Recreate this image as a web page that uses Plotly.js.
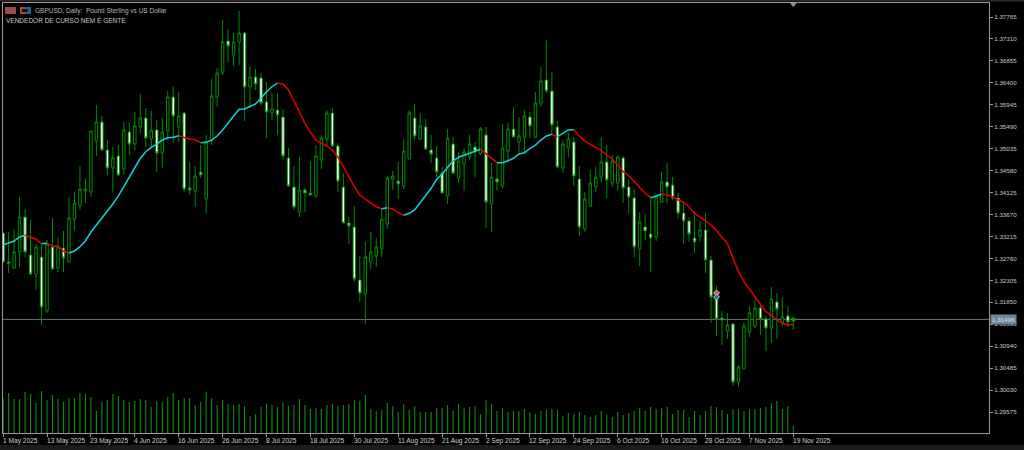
<!DOCTYPE html>
<html>
<head>
<meta charset="utf-8">
<script src="https://cdn.plot.ly/plotly-3.0.1.min.js"></script>
<style>html,body{margin:0;padding:0;background:#000;overflow:hidden}#chart{width:1024px;height:450px}</style>
</head>
<body>
<div id="chart"></div>
<script>
const openP = [
1.33287,1.32686,1.32561,1.32894,1.33619,1.32831,1.32437,1.32790,1.31670,1.32997,
1.32561,1.32976,1.32686,1.33577,1.33847,1.34158,1.34138,1.35194,1.35589,1.35008,
1.34635,1.34884,1.34614,1.35382,1.35132,1.35485,1.35671,1.35236,1.35423,1.34946,
1.35402,1.36107,1.35485,1.35775,1.34220,1.34158,1.34552,1.33992,1.35215,1.36107,
1.36605,1.37268,1.36977,1.37248,1.37434,1.36314,1.36522,1.36501,1.36004,1.35775,
1.35837,1.35692,1.34842,1.34241,1.33723,1.34179,1.34117,1.34055,1.34801,1.35236,
1.35775,1.35091,1.34241,1.33495,1.33412,1.32313,1.32022,1.32686,1.32811,1.32956,
1.33474,1.34406,1.34365,1.34262,1.34822,1.35671,1.35236,1.35485,1.35008,1.34842,
1.34531,1.34055,1.35132,1.34427,1.34718,1.34863,1.35070,1.34925,1.35319,1.33888,
1.34406,1.34262,1.34987,1.35444,1.35174,1.35277,1.35692,1.35277,1.35983,1.36459,
1.36231,1.35485,1.34635,1.35049,1.35174,1.34406,1.33370,1.33847,1.34241,1.34448,
1.34760,1.34324,1.34324,1.34842,1.34241,1.34013,1.32956,1.33412,1.33266,1.33204,
1.33930,1.34345,1.34282,1.34013,1.33702,1.33536,1.33183,1.33225,1.33349,1.32727,
1.31940,1.31525,1.31255,1.31400,1.30198,1.30468,1.31234,1.31359,1.31732,1.31504,
1.31317,1.31857,1.31421,1.31567,1.31483];
const highP = [
1.33308,1.33308,1.33370,1.34034,1.33784,1.33557,1.33059,1.33038,1.33142,1.33598,
1.33204,1.33328,1.34034,1.34138,1.34677,1.34406,1.35402,1.35941,1.35713,1.35215,
1.35070,1.35111,1.35589,1.35589,1.35796,1.36169,1.35879,1.35816,1.35630,1.35671,
1.36231,1.36314,1.36211,1.35796,1.34760,1.34677,1.35111,1.35319,1.36480,1.36708,
1.37703,1.37517,1.37434,1.37890,1.37455,1.36750,1.36688,1.36605,1.36418,1.36190,
1.36190,1.35858,1.35049,1.34677,1.34863,1.34220,1.34760,1.35111,1.35319,1.35837,
1.35879,1.35153,1.34531,1.33619,1.33847,1.32811,1.33101,1.33308,1.33183,1.33805,
1.34469,1.34572,1.34760,1.35236,1.35837,1.35962,1.35775,1.35651,1.35319,1.35091,
1.34656,1.35444,1.35277,1.34967,1.35049,1.35319,1.35174,1.35485,1.35485,1.34739,
1.34739,1.35547,1.35568,1.35900,1.35692,1.35837,1.35796,1.36211,1.36729,1.37289,
1.36626,1.35609,1.35215,1.35382,1.35277,1.34677,1.34138,1.34593,1.34656,1.35277,
1.35111,1.34904,1.34884,1.34884,1.34406,1.34199,1.33723,1.33681,1.34034,1.34055,
1.34552,1.34739,1.34448,1.34117,1.33909,1.33619,1.33723,1.33536,1.33702,1.32811,
1.32189,1.31670,1.31629,1.31421,1.30550,1.31442,1.31774,1.31898,1.31836,1.31567,
1.32168,1.32043,1.31960,1.31774,1.31525];
const lowP = [
1.32665,1.32458,1.32561,1.32582,1.32790,1.32416,1.32105,1.31379,1.31629,1.32520,
1.32479,1.32479,1.32665,1.33328,1.33764,1.33909,1.34034,1.34884,1.34987,1.34489,
1.34138,1.34469,1.34489,1.34904,1.35008,1.35361,1.35070,1.35049,1.34552,1.34635,
1.35215,1.35153,1.35174,1.34138,1.34075,1.33826,1.34427,1.33702,1.35111,1.35900,
1.36563,1.36833,1.36750,1.36770,1.35609,1.35879,1.36252,1.35921,1.35256,1.35630,
1.35319,1.34801,1.34241,1.33764,1.33619,1.33723,1.34055,1.34013,1.34614,1.35091,
1.35070,1.34138,1.33495,1.33059,1.32272,1.31857,1.31400,1.32541,1.32582,1.32790,
1.33370,1.34179,1.33992,1.34199,1.34822,1.35215,1.35215,1.35008,1.34739,1.34448,
1.34117,1.33888,1.34510,1.34324,1.34158,1.34801,1.34448,1.34904,1.33391,1.33308,
1.34158,1.34220,1.34760,1.35277,1.34904,1.34967,1.35256,1.35256,1.35900,1.36190,
1.35319,1.34635,1.34531,1.34863,1.34262,1.33225,1.33308,1.33826,1.34138,1.34345,
1.34013,1.34241,1.34158,1.33909,1.33702,1.32790,1.32603,1.33142,1.32479,1.33121,
1.33909,1.33909,1.33971,1.33598,1.33059,1.33101,1.32873,1.33101,1.32458,1.31421,
1.31152,1.30965,1.31090,1.30115,1.30094,1.30468,1.31131,1.31317,1.31172,1.30840,
1.31007,1.31090,1.31359,1.31338,1.31276];
const closeP = [
1.32686,1.32655,1.32894,1.33619,1.32894,1.32437,1.32997,1.31753,1.33059,1.32541,
1.32997,1.32769,1.33598,1.33909,1.34199,1.34199,1.35402,1.35589,1.35008,1.34635,
1.34842,1.34489,1.35423,1.35132,1.35506,1.35671,1.35256,1.35423,1.34946,1.35382,
1.36107,1.35713,1.35713,1.34199,1.34179,1.34469,1.34489,1.35174,1.36128,1.36605,
1.37248,1.37164,1.37248,1.37434,1.36314,1.36522,1.36376,1.35983,1.35796,1.35858,
1.35733,1.34884,1.34262,1.33826,1.34179,1.34117,1.34075,1.34884,1.35256,1.35775,
1.35091,1.34365,1.33495,1.33433,1.32334,1.32043,1.32790,1.32894,1.32997,1.33577,
1.34427,1.34469,1.34303,1.34987,1.35775,1.35298,1.35506,1.35029,1.34925,1.34552,
1.34117,1.35256,1.34531,1.34780,1.34967,1.35132,1.34967,1.35444,1.33930,1.34448,
1.34345,1.35049,1.35444,1.35277,1.35298,1.35713,1.35506,1.35983,1.36439,1.36231,
1.35526,1.34656,1.35132,1.35236,1.34469,1.33412,1.33992,1.34324,1.34448,1.34760,
1.34386,1.34780,1.34863,1.34220,1.34034,1.32997,1.33515,1.33328,1.33183,1.34034,
1.34345,1.34241,1.34013,1.33702,1.33536,1.33266,1.33101,1.33349,1.32727,1.31960,
1.31504,1.31483,1.31379,1.30198,1.30509,1.31359,1.31629,1.31732,1.31504,1.31317,
1.31919,1.31712,1.31546,1.31442,1.31496];
const maValues = [
1.33038,1.33080,1.33121,1.33204,1.33240,1.33198,1.33157,1.33065,1.33073,1.33018,
1.33018,1.32908,1.32873,1.32914,1.33003,1.33121,1.33308,1.33447,1.33591,1.33729,
1.33888,1.34055,1.34251,1.34455,1.34662,1.34836,1.34973,1.35064,1.35132,1.35215,
1.35263,1.35271,1.35304,1.35271,1.35230,1.35221,1.35159,1.35167,1.35215,1.35298,
1.35423,1.35561,1.35713,1.35852,1.35858,1.35906,1.35962,1.36080,1.36217,1.36320,
1.36397,1.36376,1.36252,1.36010,1.35769,1.35561,1.35375,1.35215,1.35147,1.35091,
1.35008,1.34857,1.34662,1.34455,1.34247,1.34075,1.33992,1.33903,1.33832,1.33791,
1.33811,1.33784,1.33708,1.33654,1.33695,1.33764,1.33915,1.34040,1.34214,1.34400,
1.34504,1.34649,1.34780,1.34857,1.34898,1.34940,1.34987,1.35022,1.34925,1.34836,
1.34745,1.34745,1.34786,1.34836,1.34925,1.34952,1.35039,1.35111,1.35215,1.35298,
1.35333,1.35284,1.35354,1.35423,1.35429,1.35298,1.35194,1.35126,1.35064,1.34993,
1.34904,1.34822,1.34697,1.34558,1.34475,1.34351,1.34226,1.34110,1.34019,1.34055,
1.34090,1.34081,1.34040,1.33971,1.33924,1.33832,1.33695,1.33625,1.33542,1.33453,
1.33339,1.33194,1.33069,1.32769,1.32484,1.32277,1.32120,1.31966,1.31794,1.31655,
1.31587,1.31483,1.31414,1.31385,1.31385];
const maBreaks = [0,4,7,8,12,32,36,50,69,70,73,87,90,100,101,104,118,120,144];
const tickVolume = [
35000,40000,34000,34000,41000,39000,30000,42000,33000,38000,
34000,31000,35000,35000,40000,39000,36000,22000,31000,33000,
39000,37000,33000,31000,32000,34000,33000,26000,32000,31000,
36000,40000,33000,35000,35000,28000,31000,41000,35000,28000,
33000,29000,28000,29000,27000,17000,19000,26000,29000,28000,
26000,31000,27000,28000,34000,28000,24000,25000,24000,28000,
29000,27000,28000,29000,33000,32000,38000,24000,22000,23000,
30000,27000,21000,29000,23000,27000,21000,21000,21000,25000,
25000,28000,22000,29000,25000,26000,27000,19000,33000,29000,
22000,25000,21000,22000,22000,24000,21000,19000,22000,23000,
24000,23000,17000,20000,19000,21000,18000,16000,18000,22000,
18000,16000,21000,18000,20000,22000,25000,22000,26000,24000,
25000,26000,19000,23000,23000,16000,22000,18000,22000,27000,
26000,23000,19000,24000,24000,22000,24000,24000,25000,26000,
30000,32000,24000,27000,7000];
const dateLabels = ["1 May 2025","13 May 2025","23 May 2025","4 Jun 2025","16 Jun 2025","26 Jun 2025","8 Jul 2025","18 Jul 2025","30 Jul 2025","11 Aug 2025","21 Aug 2025","2 Sep 2025","12 Sep 2025","24 Sep 2025","6 Oct 2025","16 Oct 2025","28 Oct 2025","7 Nov 2025","19 Nov 2025"];
const barsPerLabel = 8;
const priceTicks = [1.37765,1.37310,1.36855,1.36400,1.35945,1.35490,1.35035,1.34580,1.34125,1.33670,1.33215,1.32760,1.32305,1.31850,1.31395,1.30940,1.30485,1.30030,1.29575];
const lastPrice = 1.31496;
const tradeBar = 130, tradeSell = 1.32043, tradeBuy = 1.31960;
const titleLine1 = "GBPUSD, Daily:  Pound Sterling vs US Dollar";
const titleLine2 = "VENDEDOR DE CURSO NEM É GENTE";

const FONT = "Liberation Sans, Arial, sans-serif";
const GREEN = "#008c00";
const W = 1024, H = 450, L = 3, R = 989, T = 3, B = 433;
const idx = openP.map((_, i) => i);
const tickIdx = dateLabels.map((_, i) => i * barsPerLabel);
const px = v => (v - L) / (R - L);
const py = v => (B - v) / (B - T);

const traces = [];
traces.push({type:"bar", x:idx, y:tickVolume, yaxis:"y2", width:0.2,
  marker:{color:"#0f8f0f", line:{width:0}}, hoverinfo:"skip", showlegend:false});
traces.push({type:"candlestick", x:idx, open:openP, high:highP, low:lowP, close:closeP,
  whiskerwidth:0, hoverinfo:"skip", showlegend:false,
  increasing:{line:{color:GREEN, width:1}, fillcolor:"#000000"},
  decreasing:{line:{color:GREEN, width:1}, fillcolor:"#ffffff"}});
for (let s = 0; s + 1 < maBreaks.length; s++) {
  const a = maBreaks[s], b = maBreaks[s + 1];
  traces.push({type:"scatter", mode:"lines", x:idx.slice(a, b + 1), y:maValues.slice(a, b + 1),
    line:{color: s % 2 ? "#e00000" : "#14d2dc", width:1.5}, hoverinfo:"skip", showlegend:false});
}
traces.push({type:"scatter", mode:"markers", x:[tradeBar], y:[tradeSell],
  marker:{symbol:"diamond", size:4.5, color:"#e0503a", line:{color:"#d8d0c0", width:1}}, hoverinfo:"skip", showlegend:false});
traces.push({type:"scatter", mode:"markers", x:[tradeBar], y:[tradeBuy],
  marker:{symbol:"diamond", size:4.5, color:"#2f62b0", line:{color:"#c0c8d0", width:1}}, hoverinfo:"skip", showlegend:false});
traces.push({type:"scatter", mode:"markers", x:[idx[idx.length - 1]], y:[lastPrice],
  marker:{symbol:"star", size:5, color:"#00a000"}, hoverinfo:"skip", showlegend:false});
traces.push({type:"scatter", mode:"markers", x:[idx[idx.length - 1]], y:[1.38028], cliponaxis:false,
  marker:{symbol:"triangle-down", size:6, color:"#7b93a8"}, hoverinfo:"skip", showlegend:false});

const annotations = dateLabels.map((t, i) => ({
  text:t, x:tickIdx[i], xref:"x", xanchor:"left", xshift:-1.5,
  y:-0.0075, yref:"paper", yanchor:"top", yshift:0, showarrow:false, borderpad:0,
  font:{family:FONT, size:6.6, color:"#d0d0d0"}
}));
annotations.push({text:titleLine1, x:px(34), xref:"paper", xanchor:"left", y:py(10.5), yref:"paper", yanchor:"middle",
  showarrow:false, borderpad:0, font:{family:FONT, size:6.5, color:"#b8b8b8"}});
annotations.push({text:titleLine2, x:px(5), xref:"paper", xanchor:"left", y:py(20.5), yref:"paper", yanchor:"middle",
  showarrow:false, borderpad:0, font:{family:FONT, size:6.5, color:"#c8c8c8"}});
annotations.push({text:lastPrice.toFixed(5), x:px(990), xref:"paper", xanchor:"left", y:lastPrice, yref:"y", yanchor:"middle",
  showarrow:false, bgcolor:"#6f8599", borderpad:1, font:{family:FONT, size:6.2, color:"#dce4ec"}});

const rect = (x0, y0, x1, y1, color) => ({type:"rect", xref:"paper", yref:"paper",
  x0:px(x0), x1:px(x1), y0:py(y0), y1:py(y1), fillcolor:color, line:{width:0}, layer:"above"});
const shapes = [
  {type:"line", xref:"paper", x0:0, x1:1, yref:"y", y0:lastPrice, y1:lastPrice, line:{color:"#6a7276", width:1}, layer:"below"},
  rect(0, 445, W, H, "#1c1c1c"),
  rect(0, 0, W, 1.5, "#2a2a2a"),
  rect(5, 7, 16, 14, "#b5402c"),
  rect(6, 8.5, 15, 9.5, "#3f6fa8"),
  rect(6, 11, 15, 12, "#3f6fa8"),
  rect(20, 7, 31, 14, "#2f5f98"),
  rect(20, 7, 25, 14, "#b5402c"),
  rect(22, 9, 28, 12, "#101820")
];

const layout = {
  width:W, height:H, paper_bgcolor:"#000000", plot_bgcolor:"#000000",
  margin:{l:L, r:W - R, t:T, b:H - B, pad:0}, showlegend:false, boxgap:0.36,
  font:{family:FONT, color:"#d0d0d0"},
  xaxis:{type:"linear", range:[-0.02, (R - 2.7) / 5.49], rangeslider:{visible:false},
    showgrid:false, zeroline:false, showline:true, linecolor:"#9a9a9a", linewidth:1, mirror:true,
    tickmode:"array", tickvals:tickIdx, ticktext:dateLabels.map(() => ""), ticks:"outside", ticklen:3, tickcolor:"#9a9a9a", tickwidth:1},
  yaxis:{side:"right", range:[1.29140, 1.38056], showgrid:false, zeroline:false, showline:true, linecolor:"#9a9a9a", linewidth:1, mirror:true,
    tickmode:"array", tickvals:priceTicks, ticktext:priceTicks.map(v => v.toFixed(5)), ticks:"outside", ticklen:3, tickcolor:"#9a9a9a", tickwidth:1,
    tickfont:{family:FONT, size:6.2, color:"#c8c8c8"}},
  yaxis2:{overlaying:"y", anchor:"x", side:"left", range:[0, 430000], visible:false, showgrid:false, zeroline:false},
  annotations, shapes
};
Plotly.newPlot("chart", traces, layout, {displayModeBar:false, staticPlot:true});
</script>
</body>
</html>
